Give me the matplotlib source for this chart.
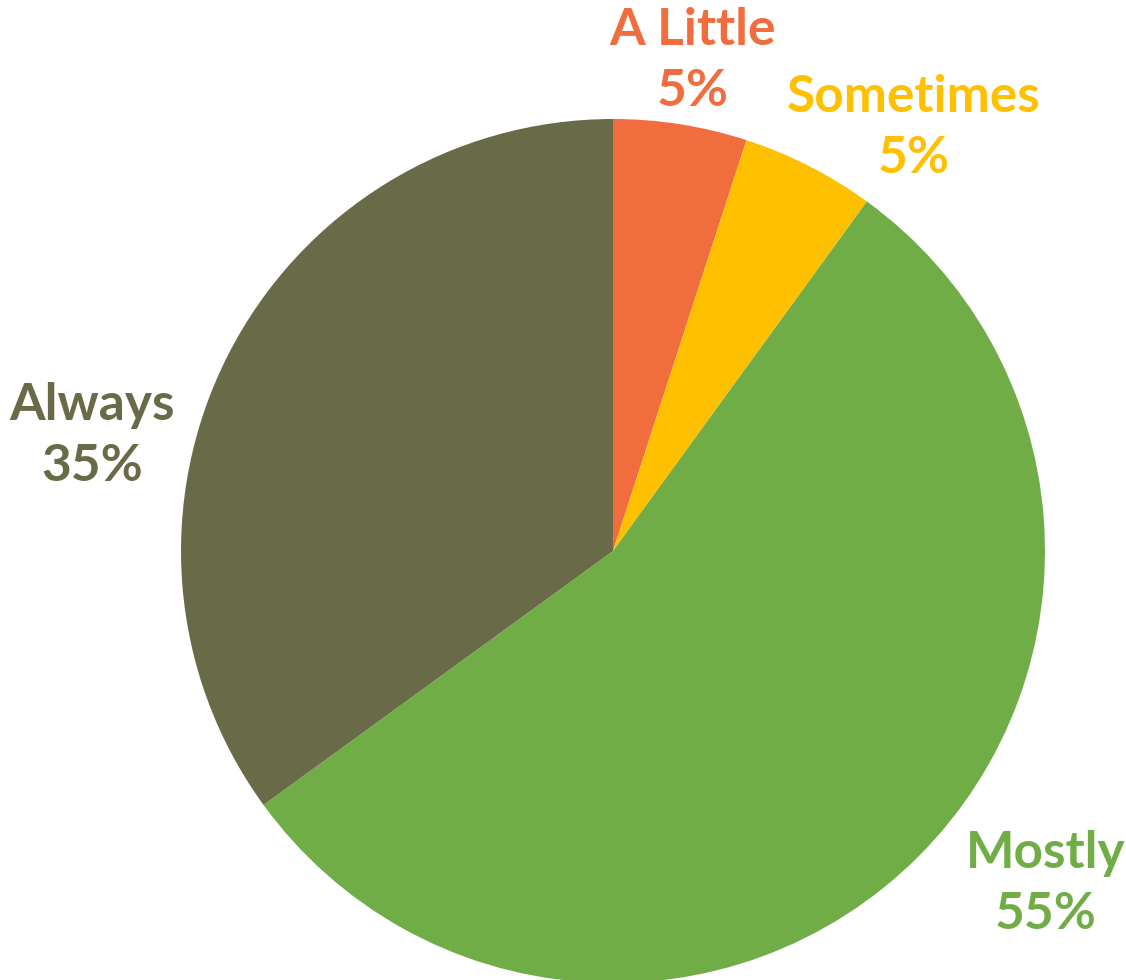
import matplotlib.pyplot as plt

labels = ['A Little', 'Sometimes', 'Mostly', 'Always']
shares = [5, 5, 55, 35]
colors = ['#F26D3D', '#FFC000', '#70AD47', '#696B48']

# label anchor points, in image pixels (x, y from top)
label_pos = [(693, 61), (914, 128), (1046, 884), (92, 436)]

W, H = 1126, 980
fig = plt.figure(figsize=(W / 100, H / 100), dpi=100)
ax = fig.add_axes([0, 0, 1, 1])

ax.pie(shares, colors=colors, startangle=90, counterclock=False,
       center=(613, H - 551), radius=432, frame=True)
ax.set_xlim(0, W)
ax.set_ylim(0, H)
ax.set_aspect('equal')
ax.axis('off')

for lab, val, c, (px, py) in zip(labels, shares, colors, label_pos):
    ax.text(px, H - py, '{}\n{}%'.format(lab, val), color=c, ha='center', va='center',
            fontsize=37, fontweight='bold', family=['Lato', 'DejaVu Sans'],
            linespacing=1.37)

fig.savefig('out.png', dpi=100)
